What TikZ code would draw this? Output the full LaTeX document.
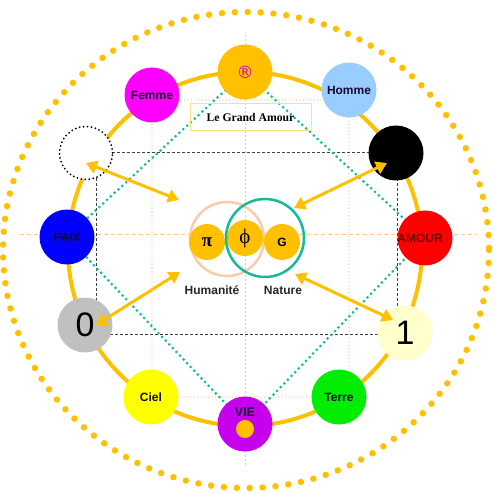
\documentclass[tikz,border=0pt]{standalone}
\usepackage{fontspec}
\setmainfont{Liberation Sans}
\newfontfamily\serifbf{Liberation Serif}
\newfontfamily\djv{DejaVu Sans}
\usetikzlibrary{arrows.meta}
\definecolor{gold}{RGB}{255,192,0}
\definecolor{teal2}{RGB}{22,186,150}
\definecolor{peach}{RGB}{248,203,173}
\definecolor{peachline}{RGB}{244,180,140}
\definecolor{crossline}{RGB}{250,200,140}
\definecolor{boxline}{RGB}{255,224,130}
\definecolor{femmec}{RGB}{255,0,255}
\definecolor{homme}{RGB}{153,204,255}
\definecolor{paixc}{RGB}{0,0,255}
\definecolor{amourc}{RGB}{255,0,0}
\definecolor{cielc}{RGB}{255,255,0}
\definecolor{vie}{RGB}{196,0,236}
\definecolor{terre}{RGB}{0,236,0}
\definecolor{unyel}{RGB}{255,255,204}
\definecolor{zerogray}{RGB}{192,192,192}
\definecolor{navytext}{RGB}{20,10,50}
\definecolor{redtext}{RGB}{110,0,0}
\definecolor{regmag}{RGB}{204,0,204}
\definecolor{darkline}{RGB}{64,64,64}
\begin{document}
\begin{tikzpicture}[x=1pt,y=-1pt,
  ball/.style={circle,inner sep=0pt,minimum size=55pt,font=\fontsize{12}{14}\selectfont\bfseries,text=navytext},
  smallball/.style={circle,inner sep=0pt,minimum size=36pt,fill=gold},
  goldarrow/.style={draw=gold,line width=3pt,{Triangle[length=11pt,width=13pt]}-{Triangle[length=11pt,width=13pt]}},
  tealdots/.style={draw=teal2,line width=3pt,line cap=round,dash pattern=on 0pt off 5.2pt},
  peachdots/.style={draw=peachline,line width=1.3pt,line cap=round,dash pattern=on 0pt off 3.5pt},
  crossdash/.style={draw=crossline,line width=0.9pt,dash pattern=on 4pt off 3pt},
  blackdash/.style={draw=darkline,line width=1pt,dash pattern=on 3pt off 2pt},
  lbl/.style={font=\fontsize{12}{14}\selectfont\bfseries,text=black!85}
]
\useasboundingbox (0,0) rectangle (495,494);
% outer dotted ring
\draw[gold,line width=6.5pt,line cap=round,dash pattern=on 0pt off 12.9pt] (246,250) ellipse [x radius=243, y radius=238];
% cross lines
\coordinate (hl) at (20,234); \coordinate (hr) at (477,234);
\coordinate (vt) at (245,35); \coordinate (vb) at (245,465);
\draw[crossdash] (hl) -- (hr);
\draw[crossline,line width=0.9pt,dash pattern=on 2pt off 2pt] (vt) -- (vb);
% peach dotted rectangle
\coordinate (p1) at (152,100); \coordinate (p2) at (349,397);
\draw[peachdots] (p1) rectangle (p2);
% black dashed rectangle
\coordinate (b1) at (96,153); \coordinate (b2) at (397,334);
\draw[blackdash] (b1) rectangle (b2);
% ring
\coordinate (rc) at (245,249);
\draw[gold,line width=4pt] (rc) circle [radius=177];
% coordinates of ring nodes
\coordinate (cR) at (245,72);
\coordinate (cPaix) at (67,237);
\coordinate (cAmour) at (425,238);
\coordinate (cVie) at (245,424);
% teal diamond
\draw[tealdots] (cR) -- (cAmour) -- (cVie) -- (cPaix) -- cycle;
% text box
\node[draw=boxline,line width=1pt,minimum width=121pt,minimum height=27pt,inner sep=0pt,font=\serifbf\fontsize{11.7}{13}\selectfont\bfseries] (box) at (250.5,117.5) {Le Grand Amour};
% centre circles
\draw[peach,line width=2.5pt] (227,239) circle [radius=37];
\node[smallball,font=\serifbf\fontsize{19}{20}\selectfont\bfseries] (pi) at (207,242) {π};
\node[smallball,font=\serifbf\fontsize{21}{22}\selectfont] (phi) at (245,238) {ϕ};
\node[smallball,font=\fontsize{12}{14}\selectfont\bfseries] (g) at (282,242) {G};
\draw[teal2,line width=2.5pt] (265,238) circle [radius=39];
\node[lbl] (hum) at (212,290) {Humanité};
\node[lbl] (nat) at (283,290) {Nature};
% ring nodes
\node[ball,fill=gold,font=\djv\fontsize{17}{18}\selectfont,text=regmag] (reg) at (cR) {®};
\node[ball,fill=femmec] (femme) at (152,95) {Femme};
\node[ball,fill=homme] (homme) at (349,90) {Homme};
\node[ball,fill=white,draw=black,line width=2pt,line cap=round,dash pattern=on 0pt off 4pt,minimum size=53pt] (empty) at (86,153) {};
\node[ball,fill=black] (noir) at (396,153) {};
\node[ball,fill=paixc] (paix) at (cPaix) {PAIX};
\node[ball,fill=amourc,text=redtext] (amour) at (cAmour) {};
\node[font=\fontsize{12}{14}\selectfont\bfseries,text=redtext] (amourt) at (420,238) {AMOUR};
\node[ball,fill=zerogray,font=\fontsize{34}{36}\selectfont,text=black] (zero) at (85,325) {0};
\node[ball,fill=unyel,font=\fontsize{34}{36}\selectfont,text=black] (one) at (405,333) {1};
\node[ball,fill=cielc] (ciel) at (151,397) {Ciel};
\node[ball,fill=terre] (terre) at (339,397) {Terre};
\node[ball,fill=vie] (vie) at (cVie) {};
\node[font=\fontsize{12.5}{14}\selectfont\bfseries,text=navytext] (viet) at (245,412) {VIE};
\node[circle,fill=gold,inner sep=0pt,minimum size=18pt] (viedot) at (245,429) {};
% arrows
\coordinate (a1s) at (86,163); \coordinate (a1e) at (179,200);
\coordinate (a2s) at (387,163); \coordinate (a2e) at (294,208);
\coordinate (a3s) at (96,325); \coordinate (a3e) at (180,272);
\coordinate (a4s) at (393,320); \coordinate (a4e) at (295,274);
\draw[goldarrow] (a1s) -- (a1e);
\draw[goldarrow] (a2s) -- (a2e);
\draw[goldarrow] (a3s) -- (a3e);
\draw[goldarrow] (a4s) -- (a4e);
\end{tikzpicture}
\end{document}
